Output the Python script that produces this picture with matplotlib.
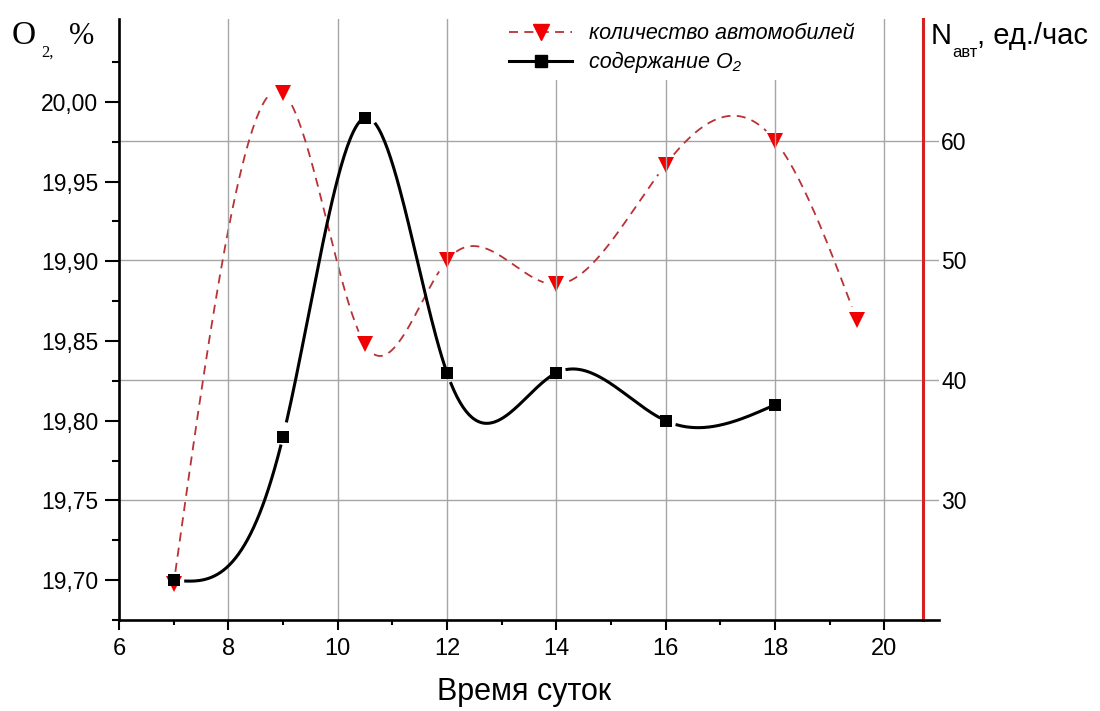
"""
Содержание O2 и количество автомобилей по времени суток.
Две оси Y: слева O2 (%), справа поток машин (ед./час).
"""

import numpy as np
import matplotlib
matplotlib.use("Agg")
import matplotlib.pyplot as plt
from matplotlib.lines import Line2D
from matplotlib.ticker import FixedLocator

# --- данные ---
hours_o2 = [7, 9, 10.5, 12, 14, 16, 18]
o2_values = [19.70, 19.79, 19.99, 19.83, 19.83, 19.80, 19.81]

hours_cars = [7, 9, 10.5, 12, 14, 16, 18, 19.5]
cars_values = [23, 64, 43, 50, 48, 58, 60, 45]

x_ticks = [6, 8, 10, 12, 14, 16, 18, 20]
o2_ticks = [19.70, 19.75, 19.80, 19.85, 19.90, 19.95, 20.00]
o2_tick_labels = ["19,70", "19,75", "19,80", "19,85", "19,90", "19,95", "20,00"]
cars_ticks = [30, 40, 50, 60]

label_cars = "количество автомобилей"
label_o2 = "содержание O\u2082"
x_label = "Время суток"

plt.rcParams["font.family"] = ["Liberation Sans", "DejaVu Sans"]

RED_LINE = "#b83236"
RED_MARK = "#f00000"
GRID = "#a6a6a6"


def natural_spline(x, y, n=400):
    """Естественный кубический сплайн через точки (как Spline в Origin)."""
    x = np.asarray(x, float)
    y = np.asarray(y, float)
    h = np.diff(x)
    m = len(x)
    A = np.zeros((m, m))
    b = np.zeros(m)
    A[0, 0] = A[-1, -1] = 1.0
    for i in range(1, m - 1):
        A[i, i - 1] = h[i - 1]
        A[i, i] = 2 * (h[i - 1] + h[i])
        A[i, i + 1] = h[i]
        b[i] = 6 * ((y[i + 1] - y[i]) / h[i] - (y[i] - y[i - 1]) / h[i - 1])
    M = np.linalg.solve(A, b)
    xs = np.linspace(x[0], x[-1], n)
    k = np.clip(np.searchsorted(x, xs) - 1, 0, m - 2)
    t1 = x[k + 1] - xs
    t0 = xs - x[k]
    hk = h[k]
    ys = (M[k] * t1 ** 3 / (6 * hk) + M[k + 1] * t0 ** 3 / (6 * hk)
          + (y[k] / hk - M[k] * hk / 6) * t1
          + (y[k + 1] / hk - M[k + 1] * hk / 6) * t0)
    return xs, ys


def with_gaps(ax, xs, ys, px, py, r_in, r_out):
    """Разрывы линии возле маркеров (в пикселях)."""
    ys = ys.copy()
    pts = ax.transData.transform(np.column_stack([xs, ys]))
    mk = ax.transData.transform(np.column_stack([px, py]))
    for mx, my in mk:
        d = np.hypot(pts[:, 0] - mx, pts[:, 1] - my)
        before = pts[:, 0] <= mx
        ys[(d < r_in) & before] = np.nan
        ys[(d < r_out) & ~before] = np.nan
    return ys


fig = plt.figure(figsize=(11, 7.11), dpi=100)
ax = fig.add_axes([119 / 1100, 91 / 711, 820 / 1100, 601 / 711])
ax2 = ax.twinx()
ax.set_zorder(2)
ax2.set_zorder(1)
ax.patch.set_visible(False)

ax.set_xlim(6, 21)
ax.set_ylim(19.675, 20.052)
ax2.set_ylim(20, 70.15)

# оси
for s in ["top", "right"]:
    ax.spines[s].set_visible(False)
for s in ["top", "left", "bottom"]:
    ax2.spines[s].set_visible(False)
ax.spines["left"].set_linewidth(1.9)
ax.spines["bottom"].set_linewidth(1.9)
ax2.spines["right"].set_position(("data", 20.71))
ax2.spines["right"].set_color("#d42222")
ax2.spines["right"].set_linewidth(2.2)

ax.set_xticks(x_ticks)
ax.xaxis.set_minor_locator(FixedLocator(np.arange(7, 21, 2)))
ax.set_yticks(o2_ticks)
ax.set_yticklabels(o2_tick_labels)
ax.yaxis.set_minor_locator(FixedLocator(np.arange(19.675, 20.03, 0.05)))
ax.tick_params(axis="both", which="major", width=1.5, direction="out")
ax.tick_params(axis="y", which="major", length=10, pad=5, labelsize=16.5)
ax.tick_params(axis="y", which="minor", length=5, width=1.5)
ax.tick_params(axis="x", which="major", length=7, pad=6, labelsize=17)
ax.tick_params(axis="x", which="minor", length=3.5, width=1.5)

ax2.set_yticks(cars_ticks)
ax2.tick_params(axis="y", length=0, pad=13, labelsize=16.5)

ax.grid(axis="x", color=GRID, linewidth=1.0)
ax2.grid(axis="y", color=GRID, linewidth=1.0)

# кривые
xc, yc = natural_spline(hours_cars, cars_values)
yc = with_gaps(ax2, xc, yc, hours_cars, cars_values, 12, 12)
ax2.plot(xc, yc, color=RED_LINE, lw=1.3, dashes=(5, 3.5))
ax2.plot(hours_cars, cars_values, "v", color=RED_MARK, ms=11, mew=0)

xo, yo = natural_spline(hours_o2, o2_values)
yo = with_gaps(ax, xo, yo, hours_o2, o2_values, 6, 11)
ax.plot(xo, yo, color="black", lw=2.2)
ax.plot(hours_o2, o2_values, "s", color="black", ms=8, mew=0)

# легенда
h_cars = Line2D([], [], color=RED_LINE, lw=1.3, dashes=(5, 3.5),
                marker="v", ms=11, mfc=RED_MARK, mec=RED_MARK)
h_o2 = Line2D([], [], color="black", lw=2.2, marker="s", ms=8, mfc="black", mec="black")
leg = ax.legend([h_cars, h_o2], [label_cars, label_o2], loc="upper left",
                bbox_to_anchor=(503 / 1100, 1 - 17 / 711), bbox_transform=fig.transFigure,
                borderaxespad=0, borderpad=0.3, handlelength=2.9, handletextpad=0.8,
                labelspacing=0.35, numpoints=1, frameon=True, fancybox=False,
                prop={"size": 15.5, "style": "italic"})
leg.get_frame().set_facecolor("white")
leg.get_frame().set_edgecolor("none")
leg.get_frame().set_alpha(1)

# подписи осей
fig.text(524 / 1100, 1 - 700 / 711, x_label, fontsize=22, ha="center", va="baseline")

fig.text(12 / 1100, 1 - 44 / 711, "O", fontsize=24, family="Liberation Serif", va="baseline")
fig.text(41 / 1100, 1 - 57 / 711, "2,", fontsize=12, family="Liberation Serif", va="baseline")
fig.text(69 / 1100, 1 - 44 / 711, "%", fontsize=22, family="Liberation Serif", va="baseline")

fig.text(931 / 1100, 1 - 44 / 711, "N", fontsize=21, va="baseline")
fig.text(952 / 1100, 1 - 57 / 711, "авт", fontsize=12, va="baseline")
fig.text(977 / 1100, 1 - 44 / 711, ", ед./час", fontsize=21, va="baseline")

fig.savefig("out.png", dpi=100)
